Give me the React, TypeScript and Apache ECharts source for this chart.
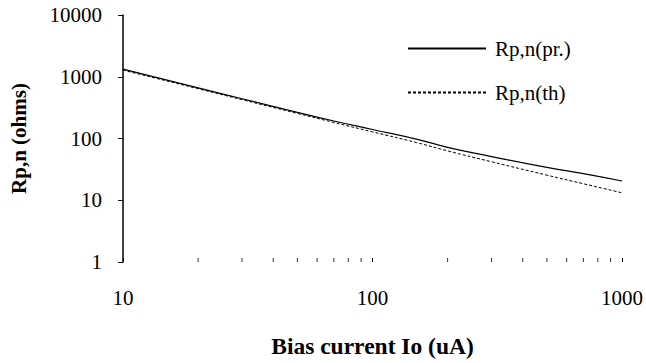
import React, { useEffect, useRef } from "react";
import * as echarts from "echarts";

const currents = [10, 20, 30, 50, 70, 100, 150, 200, 300, 500, 700, 1000];
const rpPractical = [1330, 660, 440, 265, 192, 140, 98, 72, 51, 34, 27, 20.5];
const rpTheory = [1280, 640, 425, 255, 182, 128, 86, 63, 42, 25.5, 18.5, 13.2];
const minorTickCurrents = [20, 30, 40, 50, 60, 70, 80, 90, 200, 300, 400, 500, 600, 700, 800, 900];
const seriesNames = ["Rp,n(pr.)", "Rp,n(th)"];

const FONT = "Liberation Serif";

export default function App() {
  const ref = useRef<HTMLDivElement>(null);
  useEffect(() => {
    if (!ref.current) return;
    const chart = echarts.init(ref.current, null, { renderer: "svg" });
    chart.setOption({
      animation: false,
      backgroundColor: "#ffffff",
      textStyle: { fontFamily: FONT, color: "#000" },
      grid: { left: 121, top: 15, right: 24, bottom: 87, containLabel: false },
      legend: {
        orient: "vertical",
        left: 402,
        top: 33,
        itemWidth: 78,
        itemHeight: 10,
        itemGap: 23,
        data: seriesNames.map((n) => ({ name: n, itemStyle: { opacity: 0 } })),
        textStyle: { fontFamily: FONT, fontSize: 21, color: "#000", padding: [0, 0, 0, 4] },
      },
      xAxis: {
        type: "log",
        logBase: 10,
        min: 10,
        max: 1000,
        name: "Bias current Io (uA)",
        nameLocation: "middle",
        nameGap: 72,
        nameTextStyle: { fontFamily: FONT, fontSize: 23.5, fontWeight: "bold", color: "#000" },
        axisLine: { show: false },
        axisTick: { show: true, inside: true, length: 4, lineStyle: { color: "#000" } },
        axisLabel: { fontFamily: FONT, fontSize: 21, color: "#000", margin: 25, formatter: (v: number) => String(v) },
        splitLine: { show: false },
      },
      yAxis: {
        type: "log",
        logBase: 10,
        min: 1,
        max: 10000,
        name: "Rp,n (ohms)",
        nameLocation: "middle",
        nameGap: 94,
        nameTextStyle: { fontFamily: FONT, fontSize: 21, fontWeight: "bold", color: "#000" },
        axisLine: { show: true, lineStyle: { color: "#000", width: 1.5 } },
        axisTick: { show: true, length: 5, lineStyle: { color: "#000" } },
        axisLabel: { fontFamily: FONT, fontSize: 21, color: "#000", margin: 21, formatter: (v: number) => String(v) },
        splitLine: { show: false },
      },
      series: [
        {
          name: seriesNames[0],
          type: "line",
          data: currents.map((c, i) => [c, rpPractical[i]]),
          symbol: "none",
          smooth: true,
          lineStyle: { color: "#000", width: 1.2, type: "solid" },
          itemStyle: { color: "#000" },
        },
        {
          name: seriesNames[1],
          type: "line",
          data: currents.map((c, i) => [c, rpTheory[i]]),
          symbol: "none",
          smooth: true,
          lineStyle: { color: "#000", width: 1, type: [3, 2] },
          itemStyle: { color: "#000" },
        },
        {
          name: "minorTicks",
          type: "scatter",
          data: minorTickCurrents.map((c) => [c, 1]),
          symbol: "rect",
          symbolSize: [1, 4],
          symbolOffset: [0, -2],
          itemStyle: { color: "#000" },
          silent: true,
          clip: false,
        },
      ],
    });
    return () => chart.dispose();
  }, []);
  return <div ref={ref} style={{ position: "absolute", left: 0, top: 0, width: 646, height: 363 }} />;
}
